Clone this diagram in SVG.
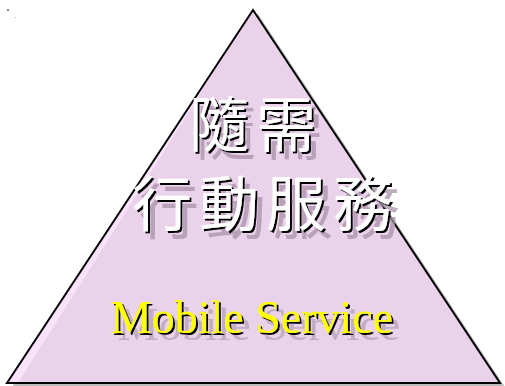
<svg xmlns="http://www.w3.org/2000/svg" width="505" height="386" viewBox="0 0 505 386">
<defs>
<filter id="sh" x="-10%" y="-20%" width="130%" height="150%">
<feOffset in="SourceAlpha" dx="7" dy="8" result="o1"/>
<feFlood flood-color="#a892a8" flood-opacity="0.75"/>
<feComposite in2="o1" operator="in" result="g"/>
<feOffset in="SourceAlpha" dx="2" dy="2" result="o2"/>
<feFlood flood-color="#000"/>
<feComposite in2="o2" operator="in" result="b"/>
<feMerge><feMergeNode in="g"/><feMergeNode in="b"/><feMergeNode in="SourceGraphic"/></feMerge>
</filter>
<filter id="sh2" x="-10%" y="-20%" width="130%" height="150%">
<feOffset in="SourceAlpha" dx="7" dy="7" result="o1"/>
<feFlood flood-color="#b9a3b9" flood-opacity="0.8"/>
<feComposite in2="o1" operator="in" result="g"/>
<feOffset in="SourceAlpha" dx="2" dy="2" result="o2"/>
<feFlood flood-color="#000"/>
<feComposite in2="o2" operator="in" result="b"/>
<feMerge><feMergeNode in="g"/><feMergeNode in="b"/><feMergeNode in="SourceGraphic"/></feMerge>
</filter>
</defs>
<style>
.cjk{font-family:"Noto Sans CJK TC","Noto Sans CJK SC",sans-serif;font-size:60px;text-anchor:middle;letter-spacing:7px;fill:#fff;filter:url(#sh)}
.en{font-family:"Liberation Serif",serif;font-size:46px;text-anchor:middle;fill:#ffff00;filter:url(#sh2)}
</style>
<rect width="505" height="386" fill="#ffffff"/>
<rect x="7" y="9" width="2" height="2" fill="#888"/>
<rect x="15" y="17" width="1" height="1" fill="#bbb"/>
<g id="pyramid">
<polygon points="258,14 505,387 12,387" fill="#a0a0a0" opacity="0.7"/>
<polygon points="253,10 500,383 7,383" fill="#ead3ea"/>
<polygon points="253,10 18,383 7,383" fill="#fae2fa"/>
<polygon points="253,10 500,383 7,383" fill="none" stroke="#000" stroke-width="2"/>
</g>
<g id="title">
<text class="cjk" x="256" y="147">隨需</text>
<text class="cjk" x="266" y="226">行動服務</text>
</g>
<g id="subtitle">
<text class="en" x="252" y="333">Mobile Service</text>
</g>
</svg>
